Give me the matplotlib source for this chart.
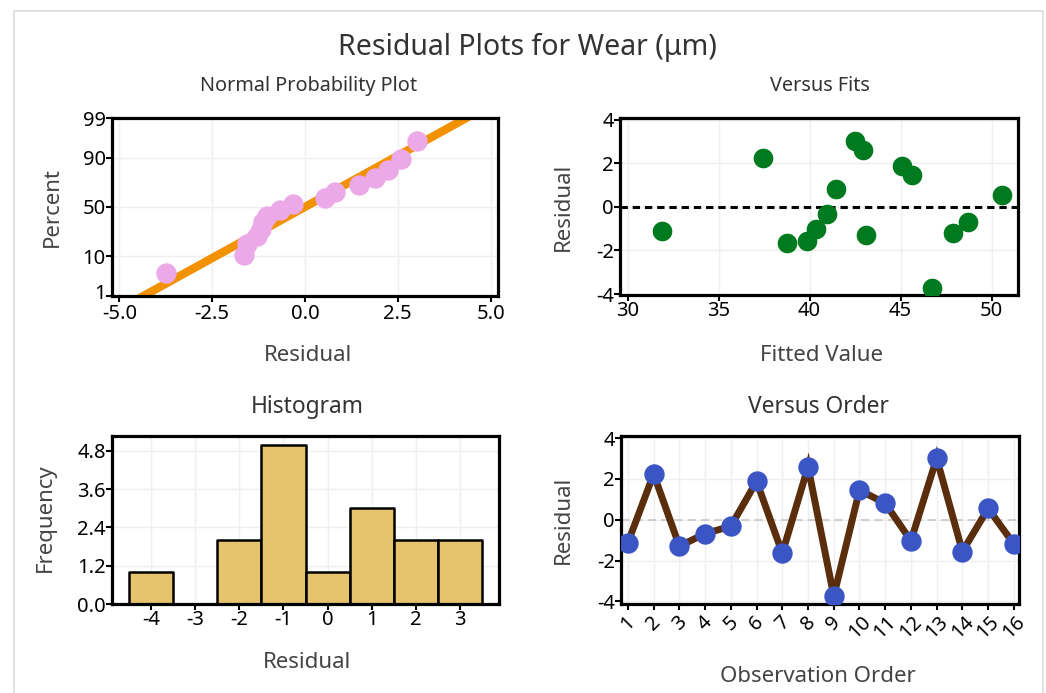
import numpy as np
import matplotlib
matplotlib.use("Agg")
import matplotlib.pyplot as plt
import matplotlib.transforms as mtransforms
from matplotlib.patches import Rectangle
from statistics import NormalDist

plt.rcParams['font.family'] = ['Noto Sans', 'DejaVu Sans']
plt.rcParams['axes.unicode_minus'] = False

# Residuals and fitted values, one entry per observation (run order)
observation = list(range(1, 17))
residuals = [-1.12, 2.24, -1.30, -0.68, -0.32, 1.88, -1.64, 2.59,
             -3.74, 1.45, 0.80, -1.03, 3.01, -1.56, 0.55, -1.19]
fitted = [31.87, 37.46, 43.10, 48.72, 40.94, 45.09, 38.78, 42.92,
          46.74, 45.64, 41.43, 40.35, 42.49, 39.84, 50.59, 47.90]

# Axis tick definitions
npp_percent_ticks = [1, 10, 50, 90, 99]
npp_x_ticks = [-5.0, -2.5, 0.0, 2.5, 5.0]
fits_x_ticks = [30, 35, 40, 45, 50]
resid_y_ticks = [-4, -2, 0, 2, 4]
hist_bin_edges = [-4.5, -3.5, -2.5, -1.5, -0.5, 0.5, 1.5, 2.5, 3.5]
hist_x_ticks = [-4, -3, -2, -1, 0, 1, 2, 3]
hist_y_ticks = [0.0, 1.2, 2.4, 3.6, 4.8]

W, H = 1046, 693
fig = plt.figure(figsize=(W / 100, H / 100), dpi=100)


def add_axes_px(left, top, right, bottom):
    return fig.add_axes([left / W, 1 - bottom / H, (right - left) / W, (bottom - top) / H])


def text_px(x, y, s, **kw):
    fig.text(x / W, 1 - y / H, s, ha='center', va='center', **kw)


def style(ax):
    for sp in ax.spines.values():
        sp.set_linewidth(2.3)
        sp.set_color('black')
    ax.tick_params(direction='out', length=4, width=1.5, color='black',
                   labelsize=14.5, labelcolor='black', pad=0.5)
    ax.grid(True, color='#efefef', lw=1)
    ax.set_axisbelow(True)


# outer frame
fig.patches.append(Rectangle((13.5 / W, -0.05), (1042.5 - 13.5) / W, 1.05 - 11.5 / H,
                             transform=fig.transFigure, fill=False,
                             edgecolor='#dcdcdc', lw=1.2))

title_col = '#333333'
label_col = '#444444'
small_title = 14.3
big_title = 16.4
label_size = 16
text_px(527, 47, 'Residual Plots for Wear (μm)', fontsize=20.5, color=title_col)

# ---- Normal probability plot ----
nd = NormalDist()
ax1 = add_axes_px(112, 118, 498, 296)
style(ax1)
n = len(residuals)
sorted_res = np.sort(residuals)
probs = (np.arange(1, n + 1) - 0.3) / (n + 0.4)
zvals = np.array([nd.inv_cdf(p) for p in probs])
mu, sd = np.mean(residuals), np.std(residuals, ddof=1)
zlo, zhi = nd.inv_cdf(0.01), nd.inv_cdf(0.99)
zline = np.array([zlo - 0.6, zhi + 0.6])
ax1.plot(mu + sd * zline, zline, color='#F39200', lw=6, solid_capstyle='butt', zorder=2)
ax1.scatter(sorted_res, zvals, s=215, color='#EBA9E8', lw=0, zorder=3)
ax1.set_xlim(-5.2, 5.2)
ax1.set_ylim(zlo, zhi)
ax1.set_xticks(npp_x_ticks, labels=[f'{v:.1f}' for v in npp_x_ticks])
ax1.set_yticks([nd.inv_cdf(p / 100) for p in npp_percent_ticks],
               labels=[str(p) for p in npp_percent_ticks])
ax1.tick_params(axis='x', pad=1.5)
# lift the lowest percent label a little so it clears the corner x label
low_label = ax1.get_yticklabels()[0]
low_label.set_transform(low_label.get_transform() +
                        mtransforms.ScaledTranslation(0, 3 / 72, fig.dpi_scale_trans))
text_px(309, 86, 'Normal Probability Plot', fontsize=small_title, color=title_col)
text_px(308, 355, 'Residual', fontsize=label_size, color=label_col)
text_px(52, 207, 'Percent', fontsize=label_size, color=label_col, rotation=90)

# ---- Versus fits ----
ax2 = add_axes_px(620, 118, 1018, 295)
style(ax2)
ax2.axhline(0, color='black', lw=2.2, ls=(0, (2.4, 1.6)), zorder=2)
ax2.scatter(fitted, residuals, s=200, color='#007A1E', lw=0, zorder=3)
ax2.set_xlim(29.58, 51.45)
ax2.set_ylim(-4.04, 4.07)
ax2.set_xticks(fits_x_ticks)
ax2.set_yticks(resid_y_ticks)
text_px(820, 86, 'Versus Fits', fontsize=small_title, color=title_col)
text_px(821, 355, 'Fitted Value', fontsize=label_size, color=label_col)
text_px(563, 207, 'Residual', fontsize=label_size, color=label_col, rotation=90)

# ---- Histogram ----
ax3 = add_axes_px(112, 436, 499, 604)
style(ax3)
ax3.hist(residuals, bins=hist_bin_edges, color='#E6C46E', edgecolor='black',
         lw=1.8, joinstyle='round', zorder=2)
ax3.set_xlim(-4.88, 3.88)
ax3.set_ylim(0, 5.27)
ax3.set_xticks(hist_x_ticks)
ax3.set_yticks(hist_y_ticks, labels=[f'{v:.1f}' for v in hist_y_ticks])
text_px(307, 407, 'Histogram', fontsize=big_title, color=title_col)
text_px(307, 663, 'Residual', fontsize=label_size, color=label_col)
text_px(45, 518, 'Frequency', fontsize=label_size, color=label_col, rotation=90)

# ---- Versus order ----
ax4 = add_axes_px(621, 436, 1019, 604)
style(ax4)
ax4.axhline(0, color='#c8c8c8', lw=1.2, ls=(0, (5, 3)), zorder=1)
ax4.plot(observation, residuals, color='#5A2D0C', lw=5, solid_joinstyle='miter', zorder=2)
ax4.scatter(observation, residuals, s=215, color='#3B55C4', lw=0, zorder=3)
ax4.set_xlim(0.73, 16.2)
ax4.set_ylim(-4.13, 4.1)
ax4.set_xticks(observation)
ax4.set_xticklabels([str(o) for o in observation], rotation=45)
ax4.tick_params(axis='x', pad=2)
ax4.set_yticks(resid_y_ticks)
text_px(818, 407, 'Versus Order', fontsize=big_title, color=title_col)
text_px(818, 676, 'Observation Order', fontsize=label_size, color=label_col)
text_px(563, 520, 'Residual', fontsize=label_size, color=label_col, rotation=90)

fig.savefig('out.png', dpi=100, facecolor='white')
